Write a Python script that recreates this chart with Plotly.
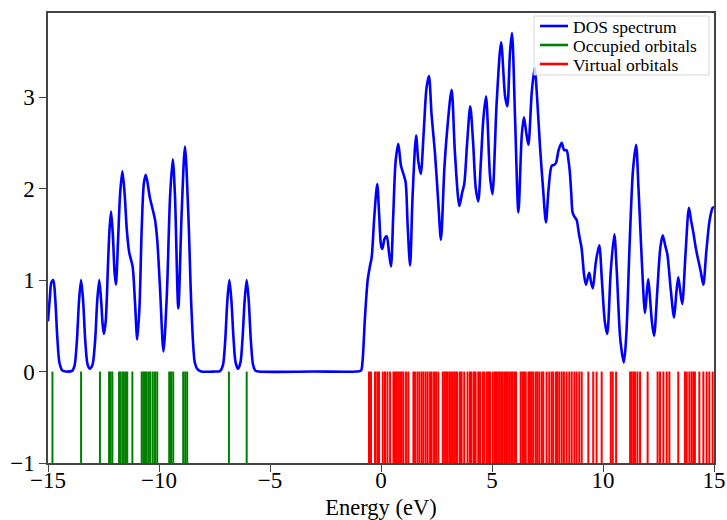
import plotly.graph_objects as go

# ---- Data ----
occupied_energies = [-14.80, -13.51, -12.66, -12.25, -12.18, -12.10, -11.80, -11.73, -11.64, -11.58,
                     -11.49, -11.43, -11.20, -10.78, -10.71, -10.63, -10.55, -10.46, -10.39, -10.28,
                     -10.18, -10.08, -9.54, -9.46, -9.36, -8.91, -8.82, -8.73, -6.85, -6.05]

virtual_energies = [-0.54, -0.45, -0.27, -0.17, -0.09, 0.08, 0.18, 0.29, 0.41,
                    0.56, 0.63, 0.71, 0.78, 0.86, 0.93, 1.01, 1.13, 1.23,
                    1.46, 1.53, 1.64, 1.73, 1.83, 1.91, 2.01, 2.10, 2.21, 2.28, 2.39, 2.48, 2.58,
                    2.78, 2.85, 2.93, 3.00, 3.08, 3.15, 3.23, 3.30, 3.38, 3.44,
                    3.56, 3.63, 3.75, 3.90, 4.01, 4.08, 4.19, 4.26, 4.38, 4.46, 4.58, 4.65, 4.76, 4.83, 4.91,
                    5.03, 5.11, 5.18, 5.26, 5.33, 5.41, 5.48, 5.56, 5.63, 5.71, 5.78, 5.86, 5.93, 6.01, 6.08,
                    6.29, 6.37, 6.44, 6.52, 6.64, 6.71, 6.79, 6.86, 6.97, 7.04, 7.13, 7.24, 7.31,
                    7.46, 7.58, 7.69, 7.76, 7.88, 7.94, 8.03, 8.14, 8.24, 8.36, 8.48, 8.59, 8.71, 8.81,
                    8.93, 9.04, 9.34, 9.56, 9.71, 9.94, 10.35, 10.44, 10.59,
                    11.22, 11.29, 11.37, 11.44, 11.55, 11.67, 12.01, 12.46, 12.57, 12.72, 12.87, 12.99,
                    13.39, 13.69, 13.77, 13.89, 13.99, 14.07, 14.14, 14.34, 14.52, 14.67, 14.79, 14.94]

dos_energy = [
    -15.0, -14.92, -14.85, -14.76, -14.67, -14.58, -14.48, -14.35,
    -14.2, -13.9, -13.8, -13.7, -13.6, -13.51, -13.42, -13.32, -13.22, -13.12,
    -13.0, -12.88, -12.78, -12.69, -12.6, -12.54, -12.48, -12.4, -12.3, -12.23, -12.16, -12.08, -12.0,
    -11.94, -11.85, -11.75, -11.65, -11.55, -11.45, -11.34, -11.19, -11.08, -10.98,
    -10.88, -10.78, -10.68, -10.59, -10.41, -10.18, -10.08, -9.95, -9.80,
    -9.65, -9.50, -9.38, -9.28, -9.13, -8.98, -8.83, -8.68, -8.53, -8.38, -8.25, -8.1,
    -7.5, -7.25, -7.12, -7.02, -6.92, -6.83, -6.74, -6.64, -6.55, -6.44,
    -6.33, -6.24, -6.14, -6.05, -5.96, -5.86, -5.76, -5.66, -5.5, -3.0, -1.1,
    -0.9, -0.83, -0.72, -0.6, -0.5, -0.42, -0.3, -0.17, -0.08, 0.0, 0.06, 0.16, 0.26, 0.36, 0.45,
    0.55, 0.66, 0.78, 0.9, 1.01, 1.11, 1.2, 1.31, 1.42, 1.58, 1.68, 1.79, 1.92, 2.05, 2.16,
    2.28, 2.43, 2.58, 2.7, 2.85, 2.96, 3.18, 3.33, 3.53, 3.65, 3.75, 3.88, 4.02, 4.15, 4.27, 4.38,
    4.5, 4.61, 4.73, 4.91, 5.02, 5.21, 5.41, 5.59, 5.69, 5.81, 5.9, 6.04, 6.19, 6.34, 6.44,
    6.55, 6.64, 6.79, 6.92, 7.03, 7.16, 7.3, 7.43, 7.55, 7.69, 7.8, 7.88, 8.0, 8.14, 8.25, 8.36,
    8.45, 8.51, 8.57, 8.63, 8.72, 8.81, 8.92, 9.04, 9.15, 9.23, 9.31, 9.38, 9.46, 9.54,
    9.68, 9.83, 9.95, 10.08, 10.19, 10.35, 10.51, 10.62, 10.78, 10.94, 11.05, 11.2, 11.35, 11.49,
    11.6, 11.75, 11.89, 11.97, 12.04, 12.12, 12.2, 12.3, 12.45, 12.58, 12.69, 12.8, 12.9,
    13.05, 13.2, 13.3, 13.39, 13.48, 13.57, 13.72, 13.87, 13.97, 14.07, 14.18, 14.29, 14.4,
    14.52, 14.65, 14.8, 14.94, 15.0]

dos_value = [
    0.55, 0.80, 0.97, 1.00, 0.78, 0.37, 0.09, 0.01,
    0.0, 0.01, 0.07, 0.33, 0.78, 1.0, 0.78, 0.33, 0.08, 0.03,
    0.07, 0.33, 0.78, 1.0, 0.75, 0.52, 0.41, 0.55, 1.15, 1.55, 1.75, 1.5, 1.08,
    0.95, 1.4, 1.95, 2.19, 1.95, 1.55, 1.30, 1.15, 0.75, 0.35,
    0.7, 1.55, 2.06, 2.15, 1.90, 1.66, 1.44, 0.89, 0.22,
    0.82, 1.92, 2.32, 1.92, 0.69, 1.73, 2.46, 1.73, 0.64, 0.09, 0.02, 0.0,
    0.0, 0.005, 0.07, 0.33, 0.78, 1.0, 0.78, 0.35, 0.1, 0.03,
    0.1, 0.35, 0.78, 1.0, 0.78, 0.33, 0.07, 0.01, 0.0, 0.0, 0.0,
    0.01, 0.12, 0.6, 1.0, 1.15, 1.25, 1.7, 2.05, 1.7, 1.38, 1.34, 1.45, 1.48, 1.3, 1.15,
    1.7, 2.3, 2.49, 2.25, 2.16, 2.07, 1.6, 1.16, 1.9, 2.58, 2.3, 2.16, 2.6, 3.1, 3.23,
    2.8, 2.39, 1.85, 1.44, 2.2, 2.58, 3.08, 2.39, 1.81, 1.95, 2.05, 2.5, 2.9, 2.5, 2.0, 1.86,
    2.3, 2.76, 3.01, 2.14, 1.94, 2.94, 3.6, 3.01, 2.9, 3.49, 3.7, 2.76, 1.74, 2.58, 2.78,
    2.6, 2.48, 3.05, 3.32, 3.0, 2.47, 2.0, 1.63, 2.0, 2.25, 2.26, 2.28, 2.42, 2.5, 2.42, 2.42,
    2.3, 2.17, 1.95, 1.74, 1.69, 1.66, 1.5, 1.34, 1.05, 0.95, 1.02, 1.08, 0.98, 0.91,
    1.2, 1.38, 1.0, 0.55, 0.41, 1.1, 1.50, 1.1, 0.35, 0.10, 0.4, 1.4, 2.2, 2.48,
    2.0, 1.2, 0.64, 0.85, 1.01, 0.8, 0.55, 0.39, 0.9, 1.35, 1.49, 1.38, 1.28,
    0.9, 0.59, 0.85, 1.03, 0.88, 0.74, 1.3, 1.79, 1.65, 1.52, 1.35, 1.22, 1.1,
    0.95, 1.3, 1.65, 1.79, 1.8]

x_tick_vals = [-15, -10, -5, 0, 5, 10, 15]
x_tick_text = ["\u221215", "\u221210", "\u22125", "0", "5", "10", "15"]
y_tick_vals = [-1, 0, 1, 2, 3]
y_tick_text = ["\u22121", "0", "1", "2", "3"]

series_names = ["DOS spectrum", "Occupied orbitals", "Virtual orbitals"]
series_colors = ["#0000ff", "#008000", "#ff0000"]


def stick_segments(energies, y_low=-1.0, y_high=0.0):
    xs, ys = [], []
    for e in energies:
        xs += [e, e, None]
        ys += [y_low, y_high, None]
    return xs, ys


fig = go.Figure()

fig.add_trace(go.Scatter(
    x=dos_energy, y=dos_value, mode="lines", name=series_names[0], showlegend=False,
    line=dict(color=series_colors[0], width=2.6, shape="spline", smoothing=0.8),
))

ox, oy = stick_segments(occupied_energies)
fig.add_trace(go.Scatter(
    x=ox, y=oy, mode="lines", name=series_names[1], showlegend=False,
    line=dict(color=series_colors[1], width=2.0),
))

vx, vy = stick_segments(virtual_energies)
fig.add_trace(go.Scatter(
    x=vx, y=vy, mode="lines", name=series_names[2], showlegend=False,
    line=dict(color=series_colors[2], width=2.0),
))

font_family = "Liberation Serif, Times New Roman, serif"


# plot area in pixels: x 48..714, y 13..463
def px_x(x):
    return (x - 48) / 666.0


def px_y(y):
    return (463 - y) / 450.0


# ---- Legend (matplotlib-style compact box) built from the series names/colours ----
shapes = [dict(type="rect", xref="paper", yref="paper",
               x0=px_x(534), x1=px_x(709), y0=px_y(75), y1=px_y(16),
               fillcolor="rgba(255,255,255,0.8)", line=dict(color="#d6d6d6", width=1), layer="above")]
annotations = []
row_px = [26, 45, 64]
for name, color, ry in zip(series_names, series_colors, row_px):
    shapes.append(dict(type="line", xref="paper", yref="paper",
                       x0=px_x(540), x1=px_x(568), y0=px_y(ry), y1=px_y(ry),
                       line=dict(color=color, width=2.6), layer="above"))
    annotations.append(dict(xref="paper", yref="paper", x=px_x(572), y=px_y(ry + 1), text=name,
                            showarrow=False, xanchor="left", yanchor="middle", borderpad=0,
                            font=dict(family=font_family, size=17.5, color="black")))

fig.update_layout(
    width=727, height=520,
    margin=dict(l=48, r=13, t=13, b=57),
    paper_bgcolor="white", plot_bgcolor="white",
    font=dict(family=font_family, size=23, color="black"),
    showlegend=False,
    shapes=shapes, annotations=annotations,
    xaxis=dict(
        range=[-15, 15], tickvals=x_tick_vals, ticktext=x_tick_text,
        showgrid=False, zeroline=False, automargin=False,
        showline=True, mirror=True, linecolor="#444444", linewidth=1.5,
        ticks="outside", ticklen=7, tickwidth=1.2, tickcolor="#444444",
        ticklabelstandoff=-11,
        title=dict(text="Energy (eV)", standoff=12, font=dict(size=22.5)),
        tickfont=dict(size=23),
    ),
    yaxis=dict(
        range=[-1, 3.92], tickvals=y_tick_vals, ticktext=y_tick_text,
        showgrid=False, zeroline=False, automargin=False,
        showline=True, mirror=True, linecolor="#444444", linewidth=1.5,
        ticks="outside", ticklen=7, tickwidth=1.2, tickcolor="#444444",
        tickfont=dict(size=23),
    ),
)

fig.write_html("out.html", config={"displayModeBar": False},
               post_script="document.body.style.margin='0';")
